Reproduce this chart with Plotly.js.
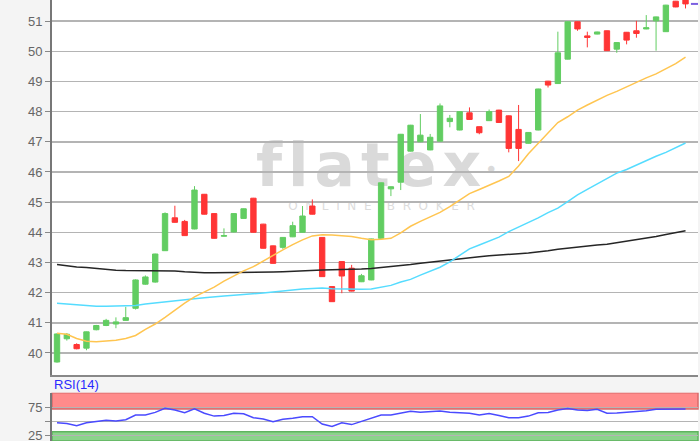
<!DOCTYPE html>
<html><head><meta charset="utf-8">
<script src="https://cdn.plot.ly/plotly-3.0.1.min.js"></script>
<style>html,body{margin:0;padding:0;background:#f4f4f4;}</style>
</head><body><div id="chart" style="width:700px;height:441px;"></div>
<script>
const openP  = [39.70,40.47,40.28,40.16,40.77,40.91,40.96,41.08,41.48,42.28,42.35,43.39,44.48,44.36,44.11,45.26,44.62,43.87,44.01,44.46,45.13,44.27,43.55,43.50,43.85,44.00,44.87,43.83,42.20,43.03,42.81,42.36,42.42,43.80,45.44,45.66,46.69,47.00,46.73,47.02,47.67,47.39,47.96,47.50,47.70,48.05,47.86,47.41,46.95,47.39,49.01,48.93,49.74,50.98,50.51,50.57,50.68,50.07,50.63,50.68,50.74,51.01,50.65,51.66,51.72];
const highP  = [40.65,40.66,40.32,40.71,40.93,41.13,41.18,41.53,42.44,42.57,43.29,44.66,44.88,44.41,45.53,45.27,44.63,44.13,44.63,44.79,45.14,44.28,43.56,43.84,44.35,44.87,45.09,43.84,42.21,43.04,42.92,42.62,43.79,45.65,45.52,47.26,47.56,47.92,47.26,48.27,47.89,48.01,48.14,47.51,48.07,48.06,47.87,48.22,47.32,48.76,49.02,50.65,50.99,50.99,50.65,50.65,50.69,50.30,50.64,51.01,51.20,51.15,51.54,51.67,51.75];
const lowP   = [39.68,40.41,40.12,40.09,40.75,40.89,40.82,41.07,41.44,42.26,42.33,43.38,44.32,43.88,44.10,44.59,43.79,43.86,44.00,44.45,43.99,43.46,42.96,43.45,43.84,43.99,44.59,42.52,41.69,41.98,42.04,42.35,42.41,43.79,45.20,45.40,46.68,46.99,46.72,47.01,47.48,47.38,47.73,47.25,47.69,47.63,46.65,46.36,46.94,47.38,48.80,48.92,49.73,50.68,50.13,50.56,50.01,49.95,50.23,50.45,50.73,50.02,50.64,51.46,51.42];
const closeP = [40.63,40.62,40.14,40.70,40.91,41.08,41.03,41.17,42.42,42.52,43.28,44.62,44.33,43.89,45.40,44.60,43.80,43.89,44.62,44.78,44.00,43.47,42.97,43.83,44.22,44.54,44.60,42.53,41.70,42.55,42.05,42.56,43.78,45.64,45.51,47.25,47.55,47.22,47.15,48.19,47.78,48.00,47.74,47.30,48.00,47.64,46.78,46.78,47.31,48.75,48.88,49.95,50.98,50.74,50.46,50.64,50.02,50.29,50.37,50.59,50.78,51.14,51.53,51.47,51.57];

const maFast = [40.65,40.62,40.48,40.39,40.37,40.39,40.42,40.48,40.58,40.78,40.96,41.18,41.42,41.65,41.86,42.02,42.18,42.38,42.56,42.72,42.86,43.05,43.25,43.42,43.59,43.75,43.88,43.92,43.91,43.89,43.86,43.80,43.75,43.77,43.80,43.98,44.20,44.36,44.50,44.66,44.85,45.06,45.28,45.42,45.55,45.70,45.85,46.20,46.60,46.95,47.30,47.64,47.83,48.05,48.22,48.39,48.54,48.67,48.82,48.99,49.12,49.25,49.42,49.59,49.81];
const maMid  = [41.65,41.62,41.59,41.56,41.55,41.55,41.55,41.56,41.57,41.62,41.66,41.69,41.73,41.77,41.80,41.83,41.87,41.89,41.91,41.93,41.96,41.99,42.02,42.06,42.09,42.12,42.14,42.15,42.13,42.12,42.12,42.11,42.12,42.17,42.24,42.35,42.44,42.58,42.72,42.84,43.02,43.23,43.45,43.58,43.72,43.84,44.02,44.17,44.32,44.48,44.65,44.80,45.02,45.24,45.42,45.60,45.78,45.96,46.08,46.23,46.37,46.52,46.65,46.80,46.96];
const maSlow = [42.93,42.88,42.85,42.83,42.80,42.76,42.74,42.73,42.73,42.73,42.73,42.73,42.72,42.69,42.67,42.66,42.66,42.66,42.66,42.66,42.66,42.67,42.68,42.69,42.71,42.73,42.75,42.75,42.76,42.76,42.77,42.78,42.80,42.83,42.85,42.89,42.93,42.97,43.01,43.05,43.09,43.12,43.16,43.19,43.22,43.25,43.27,43.29,43.31,43.34,43.39,43.44,43.48,43.51,43.54,43.58,43.60,43.65,43.71,43.76,43.81,43.86,43.93,43.98,44.05];
const rsi14  = [48.2,46.8,43.0,48.0,50.5,52.5,51.3,53.5,62.0,62.0,66.7,73.9,71.0,66.0,73.0,65.0,60.0,61.0,65.0,64.0,57.0,54.9,50.0,54.2,56.0,58.9,58.9,45.9,41.5,48.2,44.8,51.0,56.0,62.0,62.0,65.0,68.5,67.0,67.5,69.0,67.0,66.0,65.0,62.0,64.7,61.0,57.0,57.0,60.0,66.0,66.5,71.0,73.5,71.0,70.0,72.1,65.0,65.5,66.5,67.5,69.5,72.1,72.1,72.1,72.5];

const priceTicks = [40,41,42,43,44,45,46,47,48,49,50,51];
const rsiTicks = [25,50,75];
const rsiTickText = ['25','','75'];
const rsiUpper = 72.5, rsiLower = 32;
const rsiLabel = 'RSI(14)';
const brandName = 'f\u200Al\u200Aa\u200At\u200Ae\u200Ax';
const brandDot = '\u2022';
const brandSub = 'O  N  L  I  N  E    B  R  O  K  E  R';

const idx = openP.map((_, i) => i);
const n = idx.length;
const lastClose = closeP[n - 1];

const GREEN = '#62cd62', RED = '#ff3535';
const rsiMin = 15.5, rsiMax = 101.8;

const traces = [
  {type:'candlestick', x: idx, open: openP, high: highP, low: lowP, close: closeP,
   increasing:{line:{color:GREEN, width:1}, fillcolor:GREEN},
   decreasing:{line:{color:RED, width:1}, fillcolor:RED},
   whiskerwidth:0, xaxis:'x', yaxis:'y', hoverinfo:'skip', showlegend:false},
  {type:'scatter', mode:'lines', x: idx, y: maSlow, line:{color:'#262626', width:1.5}, xaxis:'x', yaxis:'y', showlegend:false},
  {type:'scatter', mode:'lines', x: idx, y: maMid, line:{color:'#55dcff', width:1.5}, xaxis:'x', yaxis:'y', showlegend:false},
  {type:'scatter', mode:'lines', x: idx, y: maFast, line:{color:'#ffc550', width:1.5}, xaxis:'x', yaxis:'y', showlegend:false},
  {type:'scatter', mode:'lines', x: [n - 0.45, n + 0.5], y: [lastClose, lastClose], line:{color:'#7b5fe0', width:2}, xaxis:'x', yaxis:'y', showlegend:false},
  {type:'scatter', mode:'lines', x: idx, y: rsi14, line:{color:'#4a4aff', width:1.5}, xaxis:'x2', yaxis:'y2', showlegend:false}
];

const tickFont = {family:'Liberation Sans, Arial, sans-serif', size:13, color:'#666666'};

const layout = {
  width:700, height:441,
  margin:{l:52, r:2, t:0, b:0},
  paper_bgcolor:'#f4f4f4', plot_bgcolor:'#ffffff',
  showlegend:false,
  boxgap:0.22,
  xaxis:{domain:[0,1], range:[-0.51, 65.27], showticklabels:false, showgrid:false, zeroline:false,
         showline:true, linecolor:'#888888', linewidth:2, mirror:true, ticks:'',
         rangeslider:{visible:false}, anchor:'y', fixedrange:true},
  yaxis:{domain:[0.1497, 1], range:[39.27, 51.70], tickvals: priceTicks, ticks:'outside', ticklen:5,
         tickcolor:'#888888', tickfont: tickFont, showgrid:true, gridcolor:'#b4b4b4', gridwidth:1.5,
         zeroline:false, showline:true, linecolor:'#777777', linewidth:2, anchor:'x', ticklabeloverflow:'allow'},
  xaxis2:{domain:[0,1], range:[-0.51, 65.27], showticklabels:false, showgrid:false, zeroline:false,
          showline:false, anchor:'y2'},
  yaxis2:{domain:[0, 0.1095], range:[rsiMin, rsiMax], tickvals: rsiTicks, ticktext: rsiTickText,
          ticks:'outside', ticklen:5, tickcolor:'#888888', tickfont: tickFont, showgrid:true,
          gridcolor:'#b4b4b4', gridwidth:1.5, zeroline:false, showline:true, linecolor:'#777777', linewidth:2,
          anchor:'x2', ticklabeloverflow:'allow'},
  shapes:[
    {type:'rect', xref:'paper', yref:'y2', x0:0, x1:1, y0:rsiUpper, y1:rsiMax, layer:'below',
     fillcolor:'rgba(255,110,110,0.8)', line:{color:'#d86a6a', width:1.5}},
    {type:'rect', xref:'paper', yref:'y2', x0:0, x1:1, y0:rsiMin, y1:rsiLower, layer:'below',
     fillcolor:'rgba(110,200,110,0.8)', line:{color:'#5fb35f', width:1.5}},
    {type:'rect', xref:'paper', yref:'paper', x0:0.28, x1:0.70, y0:0.60, y1:0.67, layer:'between',
     fillcolor:'rgba(0,0,0,0)', line:{width:0},
     label:{text: brandName, textposition:'middle center',
            font:{family:'DejaVu Sans, sans-serif', size:60, color:'#dadada', weight:'bold'}}},
    {type:'rect', xref:'paper', yref:'paper', x0:0.66, x1:0.70, y0:0.60, y1:0.64, layer:'between',
     fillcolor:'rgba(0,0,0,0)', line:{width:0},
     label:{text: brandDot, textposition:'middle center',
            font:{family:'DejaVu Sans, sans-serif', size:22, color:'#dadada'}}},
    {type:'rect', xref:'paper', yref:'paper', x0:0.30, x1:0.72, y0:0.52, y1:0.55, layer:'between',
     fillcolor:'rgba(0,0,0,0)', line:{width:0},
     label:{text: brandSub, textposition:'middle center',
            font:{family:'DejaVu Sans, sans-serif', size:12, color:'#dcdcdc'}}}
  ],
  annotations:[
    {text: rsiLabel, xref:'paper', yref:'paper', x:0, y:0.127, xanchor:'left', yanchor:'middle',
     showarrow:false, xshift:0, font:{family:'Liberation Sans, Arial, sans-serif', size:13, color:'#2a2aff'}}
  ]
};

Plotly.newPlot('chart', traces, layout, {displayModeBar:false, staticPlot:true});
</script>
</body></html>
